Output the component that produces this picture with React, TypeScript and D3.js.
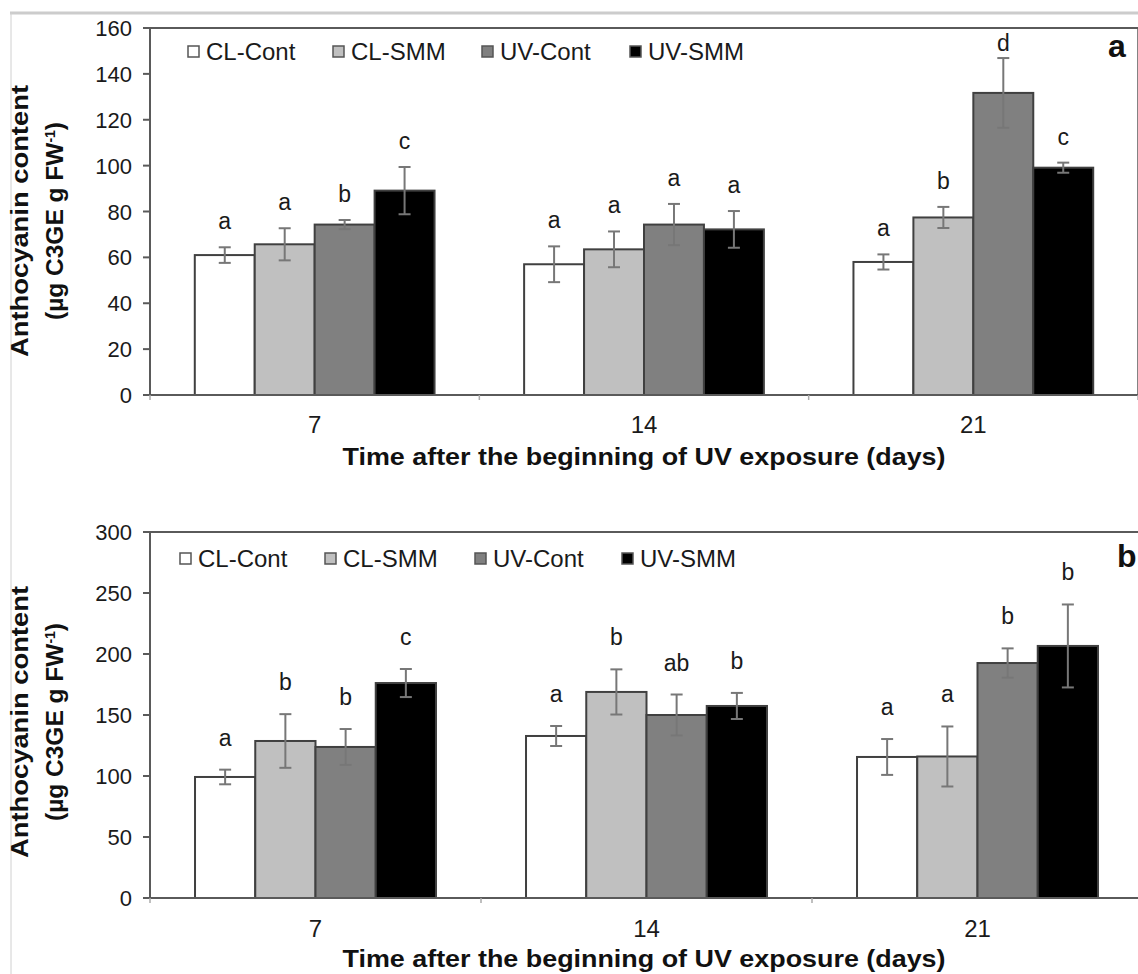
import React from "react";
import * as d3 from "d3";

// ---------- data ----------
const days = ["7", "14", "21"];
const seriesNames = ["CL-Cont", "CL-SMM", "UV-Cont", "UV-SMM"];
const seriesFill = ["#ffffff", "#c0c0c0", "#808080", "#000000"];

// Panel a
const aMeans = [
  [61, 57, 58],
  [65.7, 63.5, 77.4],
  [74.3, 74.3, 131.7],
  [89.1, 72.2, 99.1],
];
const aErrs = [
  [3.4, 7.8, 3.3],
  [7, 7.8, 4.6],
  [2, 9, 15.2],
  [10.3, 8, 2.2],
];
const aLetters = [
  ["a", "a", "a"],
  ["a", "a", "b"],
  ["b", "a", "d"],
  ["c", "a", "c"],
];
const aTicks = [0, 20, 40, 60, 80, 100, 120, 140, 160];

// Panel b
const bMeans = [
  [99.2, 132.8, 115.6],
  [128.7, 168.9, 116],
  [123.8, 150, 192.6],
  [176.2, 157.4, 206.6],
];
const bErrs = [
  [6, 8.2, 14.7],
  [22, 18.5, 24.6],
  [14.7, 16.8, 12],
  [11.5, 10.7, 34],
];
const bLetters = [
  ["a", "a", "a"],
  ["b", "b", "a"],
  ["b", "ab", "b"],
  ["c", "b", "b"],
];
const bTicks = [0, 50, 100, 150, 200, 250, 300];

const FONT = "'Liberation Sans', Arial, Helvetica, sans-serif";

type PanelProps = {
  means: number[][];
  errs: number[][];
  letters: string[][];
  ticks: number[];
  top: number;
  bottom: number;
  left: number;
  right: number;
  legendY: number;
  legendXs: number[];
  panelLabel: string;
  panelLabelX: number;
  panelLabelY: number;
  yLabelCenter: number;
  xTickBaseline: number;
  xTitleBaseline: number;
  letterGap: number;
};

function Panel(p: PanelProps) {
  const yMax = p.ticks[p.ticks.length - 1];
  const y = d3.scaleLinear().domain([0, yMax]).range([p.bottom, p.top]);
  const x0 = d3.scaleBand<string>().domain(days).range([p.left, p.right]);
  const bw = x0.bandwidth();
  const x1 = d3
    .scaleBand<string>()
    .domain(seriesNames)
    .range([bw * 0.136, bw * 0.864]);
  const barW = x1.bandwidth();
  const axisColor = "#5a5a5a";

  return (
    <g fontFamily={FONT}>
      <line x1={p.left} x2={p.right} y1={p.top} y2={p.top} stroke={axisColor} strokeWidth={2} />
      <line x1={p.right} x2={p.right} y1={p.top} y2={p.bottom} stroke={axisColor} strokeWidth={1.5} />
      {seriesNames.map((s, si) =>
        days.map((d, di) => {
          const v = p.means[si][di];
          const bx = (x0(d) as number) + (x1(s) as number);
          return (
            <rect
              key={s + d}
              x={bx}
              y={y(v)}
              width={barW}
              height={p.bottom - y(v)}
              fill={seriesFill[si]}
              stroke="#404040"
              strokeWidth={2}
            />
          );
        })
      )}
      {seriesNames.map((s, si) =>
        days.map((d, di) => {
          const v = p.means[si][di];
          const e = p.errs[si][di];
          const cx = (x0(d) as number) + (x1(s) as number) + barW / 2;
          const yt = y(v + e);
          const yb = y(v - e);
          return (
            <g key={"e" + s + d} stroke="#777777" strokeWidth={2}>
              <line x1={cx} x2={cx} y1={yt} y2={yb} />
              <line x1={cx - 6} x2={cx + 6} y1={yt} y2={yt} />
              <line x1={cx - 6} x2={cx + 6} y1={yb} y2={yb} />
            </g>
          );
        })
      )}
      {seriesNames.map((s, si) =>
        days.map((d, di) => {
          const v = p.means[si][di];
          const e = p.errs[si][di];
          const cx = (x0(d) as number) + (x1(s) as number) + barW / 2;
          const by = Math.max(y(v + e) - p.letterGap, p.top + 23);
          return (
            <text key={"l" + s + d} x={cx} y={by} textAnchor="middle" fontSize={23} fill="#1a1a1a">
              {p.letters[si][di]}
            </text>
          );
        })
      )}
      <line x1={p.left} x2={p.left} y1={p.top} y2={p.bottom} stroke={axisColor} strokeWidth={2} />
      {p.ticks.map((t) => (
        <g key={"t" + t}>
          <line x1={p.left - 7} x2={p.left} y1={y(t)} y2={y(t)} stroke={axisColor} strokeWidth={2} />
          <text x={132} y={y(t) + 8} textAnchor="end" fontSize={22} fill="#1a1a1a">
            {t}
          </text>
        </g>
      ))}
      <line x1={p.left} x2={p.right} y1={p.bottom} y2={p.bottom} stroke={axisColor} strokeWidth={2} />
      {[0, 1, 2, 3].map((k) => (
        <line
          key={"xt" + k}
          x1={p.left + k * bw}
          x2={p.left + k * bw}
          y1={p.bottom}
          y2={p.bottom + 5}
          stroke="#aaaaaa"
          strokeWidth={1.5}
        />
      ))}
      {days.map((d) => (
        <text
          key={"xl" + d}
          x={(x0(d) as number) + bw / 2}
          y={p.xTickBaseline}
          textAnchor="middle"
          fontSize={24}
          fill="#1a1a1a"
        >
          {d}
        </text>
      ))}
      <text
        x={644}
        y={p.xTitleBaseline}
        textAnchor="middle"
        fontSize={24}
        fontWeight="bold"
        textLength={603}
        lengthAdjust="spacingAndGlyphs"
        fill="#111"
      >
        Time after the beginning of UV exposure (days)
      </text>
      <text
        transform={`translate(28,${p.yLabelCenter}) rotate(-90)`}
        textAnchor="middle"
        fontSize={24}
        fontWeight="bold"
        textLength={272}
        lengthAdjust="spacingAndGlyphs"
        fill="#111"
      >
        Anthocyanin content
      </text>
      <text
        transform={`translate(63,${p.yLabelCenter}) rotate(-90)`}
        textAnchor="middle"
        fontSize={24.5}
        fontWeight="bold"
        fill="#111"
      >
        (µg C3GE g FW
        <tspan baselineShift="super" fontSize={14}>
          -1
        </tspan>
        )
      </text>
      {seriesNames.map((s, si) => (
        <g key={"lg" + s}>
          <rect
            x={p.legendXs[si]}
            y={p.legendY - 5}
            width={11}
            height={11}
            fill={seriesFill[si]}
            stroke="#555"
            strokeWidth={1.5}
          />
          <text x={p.legendXs[si] + 18} y={p.legendY + 8.5} fontSize={24} fill="#1a1a1a">
            {s}
          </text>
        </g>
      ))}
      <text x={p.panelLabelX} y={p.panelLabelY} fontSize={32} fontWeight="bold" fill="#111">
        {p.panelLabel}
      </text>
    </g>
  );
}

export default function App() {
  return (
    <svg
      width={1138}
      height={974}
      style={{ position: "absolute", left: 0, top: 0, display: "block", background: "#fff" }}
    >
      <rect x={0} y={0} width={1138} height={974} fill="#fff" />
      <line x1={10} x2={1138} y1={13} y2={13} stroke="#cccccc" strokeWidth={3} />
      <line x1={11} x2={11} y1={13} y2={974} stroke="#d0d0d0" strokeWidth={1} />
      <Panel
        means={aMeans}
        errs={aErrs}
        letters={aLetters}
        ticks={aTicks}
        top={28}
        bottom={395}
        left={150}
        right={1138}
        legendY={51}
        legendXs={[188, 333, 482, 630]}
        panelLabel="a"
        panelLabelX={1108}
        panelLabelY={57}
        yLabelCenter={221}
        xTickBaseline={433}
        xTitleBaseline={465}
        letterGap={18}
      />
      <Panel
        means={bMeans}
        errs={bErrs}
        letters={bLetters}
        ticks={bTicks}
        top={532}
        bottom={898}
        left={150}
        right={1143}
        legendY={558}
        legendXs={[180, 325, 475, 622]}
        panelLabel="b"
        panelLabelX={1117}
        panelLabelY={567}
        yLabelCenter={722}
        xTickBaseline={937}
        xTitleBaseline={967}
        letterGap={24}
      />
    </svg>
  );
}
